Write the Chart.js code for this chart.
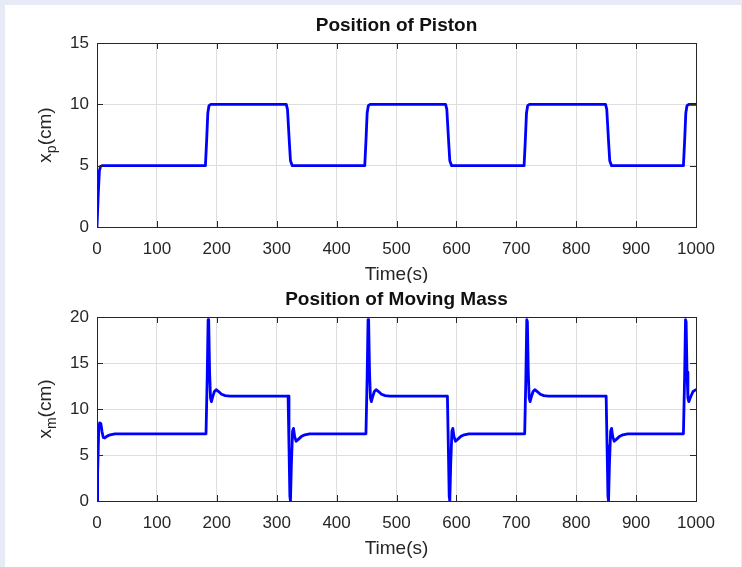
<!DOCTYPE html>
<html lang="en">
<head>
    <meta charset="UTF-8">
    <title>Position of Piston / Moving Mass</title>
    <script src="https://cdn.jsdelivr.net/npm/chart.js"></script>
    <style>
        body { margin: 0; background: #e6ebf5; width: 742px; height: 567px; overflow: hidden; position: relative; }
        #panel { position: absolute; left: 5px; top: 5px; width: 736px; height: 562px; background: #fff; }
        canvas { position: absolute; left: 0; }
        #pistonChart { top: 0; }
        #massChart { top: 283px; }
    </style>
</head>
<body>
    <div id="panel"></div>
    <canvas id="pistonChart" width="742" height="283"></canvas>
    <canvas id="massChart" width="742" height="284"></canvas>

    <script>
        // piston position (cm) vs time (s)
        const pistonTime = [0, 2, 4, 6, 9,
            181, 183, 185, 187, 190,
            316, 318, 321, 323, 326,
            447, 449, 451, 453, 456,
            582, 584, 587, 589, 592,
            713, 715, 717, 719, 722,
            849, 851, 854, 856, 859,
            979, 981, 983, 985, 988, 1000];
        const pistonPos = [0, 2.6, 4.6, 4.95, 5,
            5, 7, 9.3, 9.9, 10,
            10, 9.6, 7, 5.4, 5,
            5, 7, 9.3, 9.9, 10,
            10, 9.6, 7, 5.4, 5,
            5, 7, 9.3, 9.9, 10,
            10, 9.6, 7, 5.4, 5,
            5, 7, 9.3, 9.9, 10, 10];

        // moving mass position (cm) vs time (s)
        const massTime = [0, 1, 3, 4.5, 6.5, 8.5, 10.5, 13, 17, 22, 30,
            182, 184, 185.5, 186.5, 188, 189.5, 191, 193, 196, 199, 203, 208, 214, 222,
            319, 320.5, 322, 323, 324.5, 326.5, 328, 330, 332.5, 336, 341, 347, 355,
            449, 451, 452.5, 453.5, 455, 456.5, 458, 460, 463, 466, 470, 475, 481, 489,
            585, 586.5, 588, 589, 590.5, 592.5, 594, 596, 598.5, 602, 607, 613, 621,
            714, 716, 717.5, 718.5, 720, 721.5, 723, 725, 728, 731, 735, 740, 746, 754,
            850, 851.5, 853, 854, 855.5, 857.5, 859, 861, 863.5, 867, 872, 878, 886,
            979, 981, 982.5, 983.5, 985, 986.5, 988, 991, 995, 1000];
        const massPos = [0, 3, 8.0, 8.5, 8.4, 7.5, 6.9, 6.85, 7.05, 7.2, 7.3,
            7.3, 13.5, 19.7, 19.5, 14, 11.2, 10.8, 11.3, 11.9, 12.1, 11.9, 11.6, 11.45, 11.4,
            11.4, 6, 0.5, 0, 4, 7.6, 7.9, 7.0, 6.5, 6.7, 7.0, 7.2, 7.3,
            7.3, 13.5, 19.7, 19.5, 14, 11.2, 10.8, 11.3, 11.9, 12.1, 11.9, 11.6, 11.45, 11.4,
            11.4, 6, 0.5, 0, 4, 7.6, 7.9, 7.0, 6.5, 6.7, 7.0, 7.2, 7.3,
            7.3, 13.5, 19.7, 19.5, 14, 11.2, 10.8, 11.3, 11.9, 12.1, 11.9, 11.6, 11.45, 11.4,
            11.4, 6, 0.5, 0, 4, 7.6, 7.9, 7.0, 6.5, 6.7, 7.0, 7.2, 7.3,
            7.3, 13.5, 19.7, 19.5, 14, 11.2, 10.8, 11.3, 11.9, 12.1];

        const timeTicks = [0, 100, 200, 300, 400, 500, 600, 700, 800, 900, 1000];
        const pistonTicks = [0, 5, 10, 15];
        const massTicks = [0, 5, 10, 15, 20];

        const FONT = '"Liberation Sans", Arial, Helvetica, sans-serif';
        const AXIS_COLOR = '#262626';

        // box, inward tick marks, title and axis labels (matlab look)
        const matlabAxes = {
            id: 'matlabAxes',
            afterDraw(chart, args, opts) {
                const ctx = chart.ctx;
                const a = chart.chartArea;
                const xs = chart.scales.x, ys = chart.scales.y;
                ctx.save();
                ctx.strokeStyle = AXIS_COLOR;
                ctx.lineWidth = 1;
                ctx.strokeRect(Math.round(a.left) + 0.5, Math.round(a.top) + 0.5,
                    Math.round(a.right - a.left), Math.round(a.bottom - a.top));
                ctx.beginPath();
                xs.ticks.forEach(t => {
                    const x = Math.round(xs.getPixelForValue(t.value)) + 0.5;
                    ctx.moveTo(x, a.bottom); ctx.lineTo(x, a.bottom - 6);
                    ctx.moveTo(x, a.top); ctx.lineTo(x, a.top + 6);
                });
                ys.ticks.forEach(t => {
                    const y = Math.round(ys.getPixelForValue(t.value)) + 0.5;
                    ctx.moveTo(a.left, y); ctx.lineTo(a.left + 6, y);
                    ctx.moveTo(a.right, y); ctx.lineTo(a.right - 6, y);
                });
                ctx.stroke();

                const cx = (a.left + a.right) / 2;
                ctx.textAlign = 'center';
                ctx.textBaseline = 'alphabetic';
                ctx.fillStyle = '#111';
                ctx.font = 'bold 19px ' + FONT;
                ctx.fillText(opts.title, cx, a.top - 12);

                ctx.fillStyle = AXIS_COLOR;
                ctx.font = '19px ' + FONT;
                ctx.fillText('Time(s)', cx, a.bottom + 53);

                // y label with subscript, rotated
                const cy = (a.top + a.bottom) / 2;
                ctx.translate(51, cy);
                ctx.rotate(-Math.PI / 2);
                ctx.textAlign = 'left';
                const mainFont = '19px ' + FONT, subFont = '14px ' + FONT;
                ctx.font = mainFont;
                const w1 = ctx.measureText('x').width;
                const w3 = ctx.measureText('(cm)').width;
                ctx.font = subFont;
                const w2 = ctx.measureText(opts.sub).width;
                let x0 = -(w1 + w2 + w3) / 2;
                ctx.font = mainFont;
                ctx.fillText('x', x0, 0);
                ctx.font = subFont;
                ctx.fillText(opts.sub, x0 + w1, 5);
                ctx.font = mainFont;
                ctx.fillText('(cm)', x0 + w1 + w2, 0);
                ctx.restore();
            }
        };

        function makeChart(id, xData, yData, yMax, yTicks, title, sub, padding) {
            const points = xData.map((t, i) => ({ x: t, y: yData[i] }));
            return new Chart(document.getElementById(id), {
                type: 'line',
                data: {
                    datasets: [{
                        data: points,
                        borderColor: '#0000ff',
                        borderWidth: 2.8,
                        borderJoinStyle: 'round',
                        borderCapStyle: 'round',
                        pointRadius: 0,
                        tension: 0,
                        fill: false
                    }]
                },
                options: {
                    responsive: false,
                    animation: false,
                    events: [],
                    layout: { padding: padding },
                    plugins: {
                        legend: { display: false },
                        tooltip: { enabled: false },
                        matlabAxes: { title: title, sub: sub }
                    },
                    scales: {
                        x: {
                            type: 'linear',
                            min: 0,
                            max: 1000,
                            afterBuildTicks: s => { s.ticks = timeTicks.map(v => ({ value: v })); },
                            afterFit: s => { s.height = 40; },
                            grid: { color: '#dedede', drawTicks: false },
                            border: { display: false },
                            ticks: {
                                color: AXIS_COLOR, font: { family: FONT, size: 17 }, padding: 12, maxRotation: 0,
                                callback: v => String(v)
                            }
                        },
                        y: {
                            type: 'linear',
                            min: 0,
                            max: yMax,
                            afterBuildTicks: s => { s.ticks = yTicks.map(v => ({ value: v })); },
                            afterFit: s => { s.width = 40; },
                            grid: { color: '#dedede', drawTicks: false },
                            border: { display: false },
                            ticks: { color: AXIS_COLOR, font: { family: FONT, size: 17 }, padding: 8, callback: v => String(v) }
                        }
                    }
                },
                plugins: [matlabAxes]
            });
        }

        makeChart('pistonChart', pistonTime, pistonPos, 15, pistonTicks, 'Position of Piston', 'p',
            { left: 57, right: 46, top: 43, bottom: 16 });
        makeChart('massChart', massTime, massPos, 20, massTicks, 'Position of Moving Mass', 'm',
            { left: 57, right: 46, top: 34, bottom: 26 });
    </script>
</body>
</html>
